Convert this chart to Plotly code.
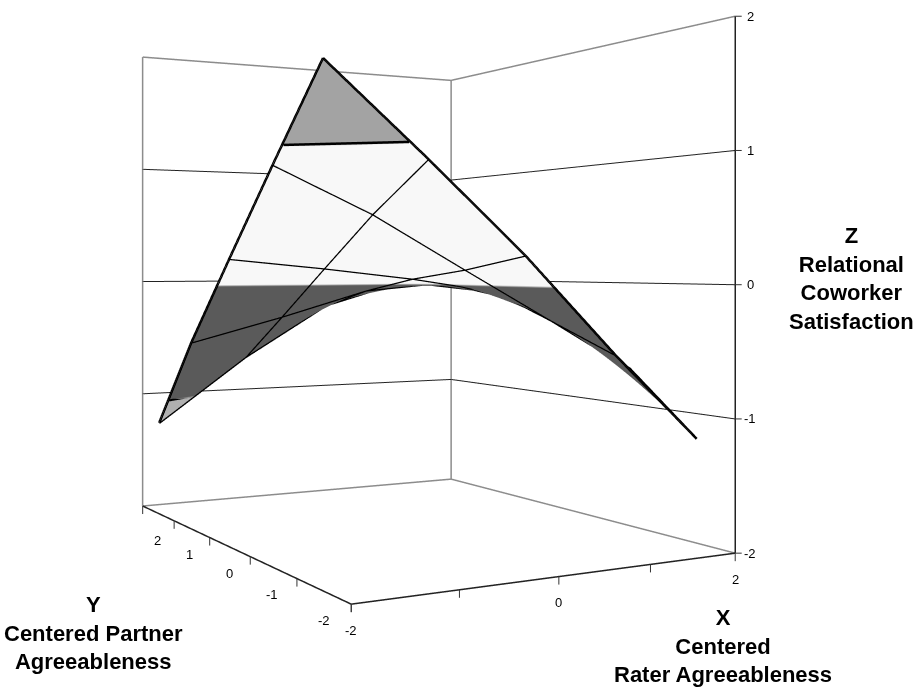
import plotly.graph_objects as go

x_nodes = [-2, -1, 0, 1, 1.98]
y_nodes = [-1.5, -0.5, 0.5, 1.5, 2.46]
# z_rows[j][i] = height at y_nodes[j], x_nodes[i]
z_rows = [
    [1.51, 0.8745, 0.2144, -0.5196, -1.1915],
    [0.8593, 0.5232, 0.1122, -0.2929, -0.7048],
    [0.194, 0.121, 0.036, -0.076, -0.424],
    [-0.483, -0.288, -0.073, -0.008, -0.177],
    [-1.215, -0.673, -0.222, -0.007, -0.09],
]
# band boundaries read on the surface: (x, y) at constant height
band_top_z = 0.985
band_top_x = [-2, -1.19]
band_top_y = [-0.73, -1.5]
band_low_z = -1.0
band_low_x = [-2, -1.62]
band_low_y = [2.15, 2.46]

x_ticks = [-2, -1, 0, 1, 2]
x_labels = ["-2", "", "0", "", "2"]
y_ticks = [-2, -1, 0, 1, 2, 3]
y_labels = ["-2", "-1", "0", "1", "2", ""]
z_ticks = [-2, -1, 0, 1, 2]
z_labels = ["-2", "-1", "0", "1", "2"]
X0, X1 = -2, 2
Y0, Y1 = -2, 3
Z0, Z1 = -2, 2
PAD = 0.015  # keeps the frame lines inside the clipping box

W, H, SHIFT = 913, 1155, 312
FONT = "Liberation Sans, Arial, sans-serif"
GRAY = "#8c8c8c"
LINE = "#222222"

fig = go.Figure()
fig.add_trace(go.Surface(
    x=x_nodes, y=y_nodes, z=z_rows, cmin=-2, cmax=2, showscale=False, hoverinfo="skip",
    colorscale=[[0, "#b0b0b0"], [0.25, "#b0b0b0"], [0.25, "#5a5a5a"], [0.4985, "#5a5a5a"],
                [0.4985, "#f8f8f8"], [0.75, "#f8f8f8"], [0.75, "#a3a3a3"], [1, "#a3a3a3"]],
    lighting=dict(ambient=1, diffuse=0, specular=0, roughness=1, fresnel=0),
))


def line(xs, ys, zs, color, width=2):
    fig.add_trace(go.Scatter3d(x=xs, y=ys, z=zs, mode="lines", hoverinfo="skip",
                               showlegend=False, line=dict(color=color, width=width)))


# mesh lines and outline of the surface
for j, yv in enumerate(y_nodes):
    line(x_nodes, [yv] * len(x_nodes), z_rows[j], "black", 5)
for i, xv in enumerate(x_nodes):
    line([xv] * len(y_nodes), y_nodes, [r[i] for r in z_rows], "black", 5)
# band boundaries
line(band_top_x, band_top_y, [band_top_z] * len(band_top_x), "black", 5)
line(band_low_x, band_low_y, [band_low_z] * len(band_low_x), "black", 4)

# walls
line([X0, X1, X1], [Y1, Y1, Y0], [Z1, Z1, Z1], GRAY, 3)
line([X0, X1, X1], [Y1, Y1, Y0], [Z0, Z0, Z0], GRAY, 3)
line([X0, X0], [Y1, Y1], [Z0, Z1], GRAY, 3)
line([X1, X1], [Y1, Y1], [Z0, Z1], GRAY, 3)
for zv in z_ticks[1:-1]:
    line([X0, X1, X1], [Y1, Y1, Y0], [zv, zv, zv], LINE, 2)
line([X0, X1], [Y0, Y0], [Z0, Z0], LINE, 3)
line([X0, X0], [Y0, Y1], [Z0, Z0], LINE, 3)
line([X1, X1], [Y0, Y0], [Z0, Z1], LINE, 3)

axis = dict(showbackground=False, showgrid=False, zeroline=False, showline=False,
            showspikes=False, ticks="", showticklabels=False, title=dict(text=""))


def tick(xv, yv, zv, ax, ay):
    return dict(x=xv, y=yv, z=zv, text="\u00a0", showarrow=True, arrowhead=0, arrowwidth=1,
                arrowcolor="#333333", ax=ax, ay=ay, font=dict(size=1))


def label(xv, yv, zv, text, dx, dy):
    return dict(x=xv, y=yv, z=zv, text=text, showarrow=False, xshift=dx, yshift=dy,
                font=dict(family=FONT, size=13, color="black"))


y_label_shift = {-2: (-27, -16), -1: (-25, -16), 0: (-21, -17), 1: (-20, -17), 2: (-17, -20)}
scene_notes = []
for v, t in zip(x_ticks, x_labels):
    scene_notes.append(tick(v, Y0, Z0, 0, 10))
    if t:
        scene_notes.append(label(v, Y0, Z0, t, 0, -26))
for v, t in zip(y_ticks, y_labels):
    scene_notes.append(tick(X0, v, Z0, 0, 10))
    if t:
        scene_notes.append(label(X0, v, Z0, t, *y_label_shift[v]))
for v, t in zip(z_ticks, z_labels):
    scene_notes.append(tick(X1, Y0, v, 8, 0))
    scene_notes.append(label(X1, Y0, v, t, 15, 0))


def page_text(text, px, py):
    return dict(text=text, x=px / W, y=1 - (py + SHIFT) / H, xref="paper", yref="paper",
                showarrow=False, align="center", xanchor="center", yanchor="middle",
                font=dict(family=FONT, size=22, color="black"))


fig.update_layout(
    width=W, height=H, margin=dict(l=0, r=0, t=0, b=0), paper_bgcolor="white",
    showlegend=False,
    scene=dict(
        domain=dict(x=[0, 825 / W], y=[0, 1]),
        aspectmode="manual", aspectratio=dict(x=0.80, y=1.03, z=1.0),
        camera=dict(eye=dict(x=-1.383, y=-2.469, z=0.0355), center=dict(x=0, y=0, z=0.0355),
                    up=dict(x=0, y=0, z=1)),
        xaxis=dict(axis, range=[X0 - PAD, X1 + PAD]),
        yaxis=dict(axis, range=[Y0 - PAD, Y1 + PAD]),
        zaxis=dict(axis, range=[Z0 - PAD, Z1 + PAD]),
        annotations=scene_notes,
    ),
    annotations=[
        page_text("<b>Z<br>Relational<br>Coworker<br>Satisfaction</b>", 851, 278),
        page_text("<b>Y<br>Centered Partner<br>Agreeableness</b>", 93, 633),
        page_text("<b>X<br>Centered<br>Rater Agreeableness</b>", 722.5, 645.5),
    ],
)

post = ("document.documentElement.style.overflow='hidden';"
        "document.body.style.overflow='hidden';"
        "document.body.style.margin='-%dpx 0 0 0';" % SHIFT)
fig.write_html("out.html", post_script=post)
